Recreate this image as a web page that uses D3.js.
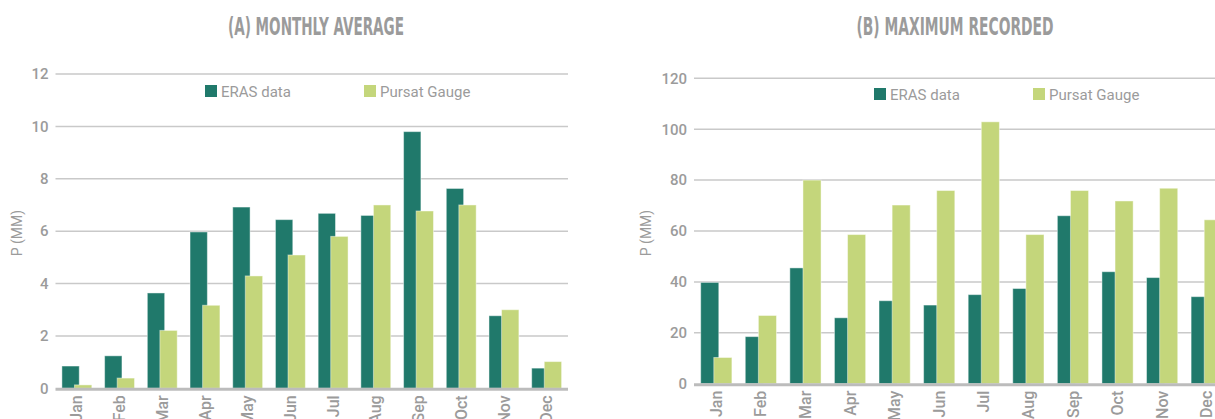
<!DOCTYPE html>
<html>
<head>
<meta charset="utf-8">
<script src="https://cdn.jsdelivr.net/npm/d3@7"></script>
<style>
  body { margin: 0; background: #fff; }
  svg { display: block; }
</style>
</head>
<body>
<svg id="chart"></svg>
<script>
// Data
const months = ["Jan", "Feb", "Mar", "Apr", "May", "Jun", "Jul", "Aug", "Sep", "Oct", "Nov", "Dec"];
const seriesNames = ["ERAS data", "Pursat Gauge"];

// (A) monthly average, mm
const avgEras   = [0.85, 1.24, 3.64, 5.97, 6.92, 6.44, 6.68, 6.60, 9.80, 7.63, 2.77, 0.77];
const avgPursat = [0.13, 0.39, 2.21, 3.17, 4.29, 5.09, 5.80, 7.00, 6.77, 7.00, 3.00, 1.02];

// (B) maximum recorded, mm
const maxEras   = [39.8, 18.5, 45.5, 25.9, 32.6, 30.9, 35.0, 37.4, 66.0, 44.0, 41.7, 34.2];
const maxPursat = [10.3, 26.8, 80.0, 58.6, 70.2, 75.9, 102.9, 58.6, 75.9, 71.8, 76.8, 64.4];

const avgTicks = [0, 2, 4, 6, 8, 10, 12];
const maxTicks = [0, 20, 40, 60, 80, 100, 120];

// Constants
const width = 1215;
const height = 419;
const colors = ["#20796b", "#c4d67b"];
const textColor = "#9b9b9b";
const gridColor = "#c9c9c9";
const font = "Roboto, 'DejaVu Sans', sans-serif";
const titleFont = "'Liberation Sans Narrow', 'DejaVu Sans Condensed', sans-serif";

const svg = d3.select("#chart")
  .attr("width", width)
  .attr("height", height);

function drawPanel(p) {
  const g = svg.append("g");

  const x = d3.scaleBand()
    .domain(months)
    .range([p.left, p.right])
    .paddingInner(0.3)
    .paddingOuter(0.15);

  const y = d3.scaleLinear()
    .domain([0, d3.max(p.ticks)])
    .range([p.bottom, p.top]);

  // Title
  g.append("text")
    .attr("x", p.titleX)
    .attr("y", 35)
    .attr("text-anchor", "middle")
    .attr("textLength", p.titleW)
    .attr("lengthAdjust", "spacingAndGlyphs")
    .style("font-family", titleFont)
    .style("font-weight", "bold")
    .style("font-size", "25px")
    .style("fill", textColor)
    .text(p.title);

  // Gridlines
  g.selectAll(".grid")
    .data(p.ticks.filter(d => d > 0))
    .enter().append("line")
    .attr("x1", p.left)
    .attr("x2", p.right)
    .attr("y1", d => y(d))
    .attr("y2", d => y(d))
    .style("stroke", gridColor)
    .style("stroke-width", 1.5);

  // Y axis labels
  const yAxis = g.append("g")
    .attr("transform", `translate(${p.left},0)`)
    .call(d3.axisLeft(y).tickValues(p.ticks).tickSize(0).tickPadding(7));
  yAxis.select(".domain").remove();
  yAxis.selectAll("text")
    .style("font-family", font)
    .style("font-size", "15px")
    .style("font-weight", 500)
    .style("fill", textColor);

  // Bars
  const bw = x.bandwidth();
  const w = bw * 0.58;
  const rows = months.map((m, i) => ({ m, v: [p.eras[i], p.pursat[i]] }));

  [0, 1].forEach(s => {
    g.selectAll(".bar" + s)
      .data(rows)
      .enter().append("rect")
      .attr("x", d => x(d.m) + (s === 0 ? 0 : bw - w))
      .attr("y", d => y(d.v[s]))
      .attr("width", w)
      .attr("height", d => y(0) - y(d.v[s]))
      .style("fill", colors[s])
      .style("stroke", "#ffffff")
      .style("stroke-opacity", 0.45)
      .style("stroke-width", 1);
  });

  // Baseline
  g.append("line")
    .attr("x1", p.left)
    .attr("x2", p.right)
    .attr("y1", y(0) + 1)
    .attr("y2", y(0) + 1)
    .style("stroke", "#bcbcbc")
    .style("stroke-width", 3);

  // X axis labels, rotated
  g.selectAll(".xlab")
    .data(months)
    .enter().append("text")
    .attr("transform", d => `translate(${x(d) + bw / 2}, ${y(0) + 7}) rotate(-90)`)
    .attr("text-anchor", "end")
    .attr("dy", "0.35em")
    .style("font-family", font)
    .style("font-size", "16px")
    .style("font-weight", 500)
    .style("fill", textColor)
    .text(d => d);

  // Y axis title
  g.append("text")
    .attr("transform", `translate(${p.yTitleX}, ${(p.top + p.bottom) / 2 + 2}) rotate(-90)`)
    .attr("text-anchor", "middle")
    .attr("dy", "0.35em")
    .style("font-family", font)
    .style("font-size", "14px")
    .style("fill", textColor)
    .text("P (MM)");

  // Legend
  const leg = g.selectAll(".leg")
    .data(seriesNames)
    .enter().append("g")
    .attr("transform", (d, i) => `translate(${p.legendX[i]}, ${p.legendY})`);
  leg.append("rect")
    .attr("width", 12)
    .attr("height", 12)
    .style("fill", (d, i) => colors[i]);
  leg.append("text")
    .attr("x", 16)
    .attr("y", 11.5)
    .style("font-family", font)
    .style("font-size", "15px")
    .style("fill", textColor)
    .text(d => d);
}

drawPanel({
  title: "(A) MONTHLY AVERAGE", titleX: 316, titleW: 176,
  left: 55.5, right: 568, top: 74, bottom: 388.3,
  ticks: avgTicks, eras: avgEras, pursat: avgPursat,
  yTitleX: 17, legendX: [205, 364], legendY: 85
});

drawPanel({
  title: "(B) MAXIMUM RECORDED", titleX: 955, titleW: 197,
  left: 694, right: 1229, top: 78.3, bottom: 383.7,
  ticks: maxTicks, eras: maxEras, pursat: maxPursat,
  yTitleX: 646, legendX: [874, 1033], legendY: 88
});
</script>
</body>
</html>
